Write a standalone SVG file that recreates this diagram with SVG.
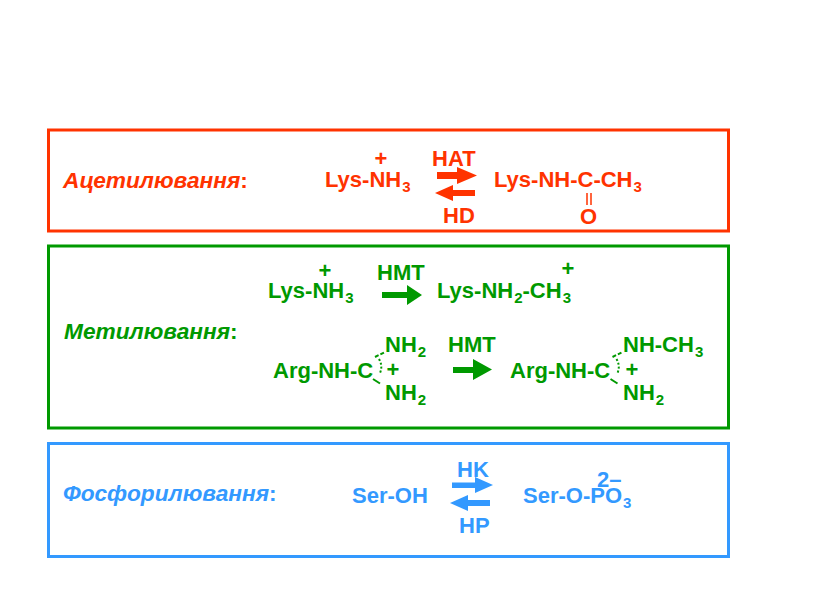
<svg xmlns="http://www.w3.org/2000/svg" width="816" height="612" viewBox="0 0 816 612">
<style>
text{font-family:"Liberation Sans",Arial,sans-serif;font-weight:bold;font-size:22px}
.lbl{font-style:italic;font-size:22.7px}
.up{font-style:normal}
.sub{font-size:15px}
.r{fill:#FF3300}.g{fill:#009900}.b{fill:#3399FF}
.box{fill:none;stroke-width:3}
.mid{text-anchor:middle}
</style>
<rect width="816" height="612" fill="#fff"/>
<g id="acetylation">
<rect class="box" x="48.5" y="130" width="680" height="101" stroke="#FF3300"/>
<text class="r lbl" x="63" y="188">Ацетилювання<tspan class="up">:</tspan></text>
<text class="r mid" x="381" y="165.5">+</text>
<text class="r" x="325" y="187">Lys-NH<tspan class="sub" dx="1" dy="5">3</tspan></text>
<text class="r" x="432" y="166">HAT</text>
<text class="r" x="443" y="223">HD</text>
<text class="r" x="494" y="187">Lys-NH-C-CH<tspan class="sub" dx="1" dy="5">3</tspan></text>
<path d="M587,193V205M591,193V205" stroke="#FF3300" stroke-width="1.5"/>
<text class="r" x="580" y="224">O</text>
</g>
<g id="methylation">
<rect class="box" x="48.5" y="246" width="680" height="182" stroke="#009900"/>
<text class="g lbl" x="64" y="339">Метилювання<tspan class="up">:</tspan></text>
<text class="g mid" x="325" y="277.5">+</text>
<text class="g" x="268" y="298">Lys-NH<tspan class="sub" dx="1" dy="5">3</tspan></text>
<text class="g" x="377" y="280">HMT</text>
<text class="g" x="437" y="298">Lys-NH<tspan class="sub" dx="1" dy="5">2</tspan><tspan dy="-5">-CH</tspan><tspan class="sub" dx="1" dy="5">3</tspan></text>
<text class="g mid" x="568" y="275.5">+</text>
<text class="g" x="273" y="378">Arg-NH-C</text>
<text class="g" x="385" y="352">NH<tspan class="sub" dx="1" dy="5">2</tspan></text>
<text class="g mid" x="393" y="377">+</text>
<text class="g" x="385" y="400">NH<tspan class="sub" dx="1" dy="5">2</tspan></text>
<path d="M375,357L385,352" stroke="#009900" stroke-width="2" stroke-dasharray="4,2"/>
<path d="M379,359Q383,366 380,373" fill="none" stroke="#009900" stroke-width="2" stroke-dasharray="2,2"/>
<path d="M373,379L380,383.5" stroke="#009900" stroke-width="2"/>
<text class="g" x="448" y="352">HMT</text>
<text class="g" x="510" y="378">Arg-NH-C</text>
<text class="g" x="623" y="352">NH-CH<tspan class="sub" dx="1" dy="5">3</tspan></text>
<text class="g mid" x="632" y="377">+</text>
<text class="g" x="623" y="400">NH<tspan class="sub" dx="1" dy="5">2</tspan></text>
<path d="M612.5,357L622.5,352" stroke="#009900" stroke-width="2" stroke-dasharray="4,2"/>
<path d="M616.5,359Q620.5,366 617.5,373" fill="none" stroke="#009900" stroke-width="2" stroke-dasharray="2,2"/>
<path d="M610.5,379L617.5,383.5" stroke="#009900" stroke-width="2"/>
</g>
<g id="phosphorylation">
<rect class="box" x="48.5" y="443.5" width="680" height="113" stroke="#3399FF"/>
<text class="b lbl" x="63" y="501">Фосфорилювання<tspan class="up">:</tspan></text>
<text class="b" x="352" y="503">Ser-OH</text>
<text class="b" x="457" y="477">HK</text>
<text class="b" x="459" y="533">HP</text>
<text class="b" x="597" y="487">2–</text>
<text class="b" x="523" y="503">Ser-O-PO<tspan class="sub" dx="1" dy="5">3</tspan></text>
</g>
<g id="connectors">
<path fill="#FF3300" d="M437,172H457V167L477,175.5L457,184V179H437Z"/>
<path fill="#FF3300" d="M435,193L453,185V190H475V196H453V201Z"/>
<path fill="#009900" d="M382,292H407V285L422,295L407,305V298H382Z"/>
<path fill="#009900" d="M453,367H473V359L492,369.5L473,380V373H453Z"/>
<path fill="#3399FF" d="M452,482.5H475V477L493,485L475,493V488H452Z"/>
<path fill="#3399FF" d="M450,503L468,495V500H490V506H468V511Z"/>
</g>
</svg>
